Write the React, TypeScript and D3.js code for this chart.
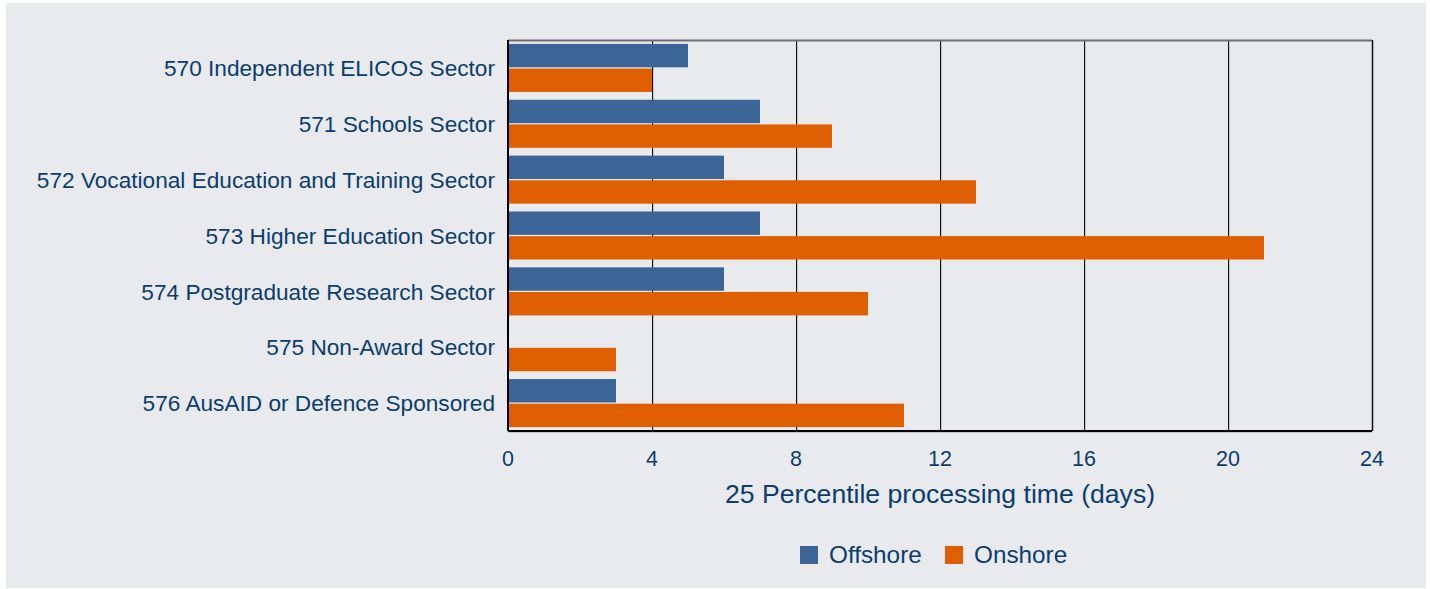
import React from "react";
import * as d3 from "d3";

const categories = [
  "570 Independent ELICOS Sector",
  "571 Schools Sector",
  "572 Vocational Education and Training Sector",
  "573 Higher Education Sector",
  "574 Postgraduate Research Sector",
  "575 Non-Award Sector",
  "576 AusAID or Defence Sponsored",
];
const offshore = [5, 7, 6, 7, 6, 0, 3];
const onshore = [4, 9, 13, 21, 10, 3, 11];
const ticks = [0, 4, 8, 12, 16, 20, 24];
const seriesNames = ["Offshore", "Onshore"];
const colors = ["#3b6597", "#df5f00"];

export default function App() {
  const W = 1430, H = 589;
  const left = 508, right = 1372, top = 40, bottom = 431;
  const x = d3.scaleLinear().domain([0, 24]).range([left, right]);
  const y = d3.scaleBand<string>().domain(categories).range([top, bottom]).paddingInner(0.14).paddingOuter(0.07);
  const inner = d3.scaleBand<string>().domain(seriesNames).range([0, y.bandwidth()]).paddingInner(0.05);
  const text = "#0c3d6d";
  const font = "'Liberation Sans', Arial, sans-serif";
  const data = [offshore, onshore];
  const catSize = 22.65;
  return (
    <svg width={W} height={H} style={{ position: "absolute", left: 0, top: 0 }} fontFamily={font}>
      <rect x={0} y={0} width={W} height={H} fill="#ffffff" />
      <rect x={6} y={3} width={1420} height={585} fill="#e8eaed" />
      {/* gridlines */}
      {ticks.slice(1, -1).map((t) => (
        <g key={t}>
          <line x1={x(t) + 1.5} x2={x(t) + 1.5} y1={top} y2={bottom} stroke="#c8c8c8" strokeWidth={1} />
          <line x1={x(t) + 0.5} x2={x(t) + 0.5} y1={top} y2={bottom} stroke="#111" strokeWidth={1} />
        </g>
      ))}
      <line x1={left} x2={right} y1={top + 0.5} y2={top + 0.5} stroke="#707070" strokeWidth={2} />
      <line x1={right + 0.5} x2={right + 0.5} y1={top} y2={bottom} stroke="#111" strokeWidth={1.5} />
      {/* bars */}
      {categories.map((c, i) => (
        <g key={c}>
          {data.map((arr, s) =>
            arr[i] > 0 ? (
              <rect
                key={s}
                x={x(0)}
                y={(y(c) as number) + (inner(seriesNames[s]) as number)}
                width={x(arr[i]) - x(0)}
                height={inner.bandwidth()}
                fill={colors[s]}
              />
            ) : null
          )}
          <text x={495} y={(y(c) as number) + y.bandwidth() / 2 + catSize * 0.36} textAnchor="end" fontSize={catSize} fill={text}>
            {c}
          </text>
        </g>
      ))}
      {/* axes */}
      <line x1={left} x2={left} y1={top} y2={bottom} stroke="#000" strokeWidth={2} />
      <line x1={left} x2={right} y1={bottom + 1.5} y2={bottom + 1.5} stroke="#c8c8c8" strokeWidth={1} />
      <line x1={left} x2={right} y1={bottom} y2={bottom} stroke="#000" strokeWidth={2} />
      {ticks.map((t) => (
        <text key={t} x={x(t)} y={466} textAnchor="middle" fontSize={21.5} fill={text}>
          {t}
        </text>
      ))}
      <text x={(left + right) / 2} y={503} textAnchor="middle" fontSize={26.6} fill={text}>
        25 Percentile processing time (days)
      </text>
      {/* legend */}
      {seriesNames.map((n, i) => {
        const lx = [800, 945][i];
        return (
          <g key={n}>
            <rect x={lx} y={546} width={18} height={18} fill={colors[i]} />
            <text x={lx + 29} y={563} fontSize={24.3} fill={text}>
              {n}
            </text>
          </g>
        );
      })}
    </svg>
  );
}
